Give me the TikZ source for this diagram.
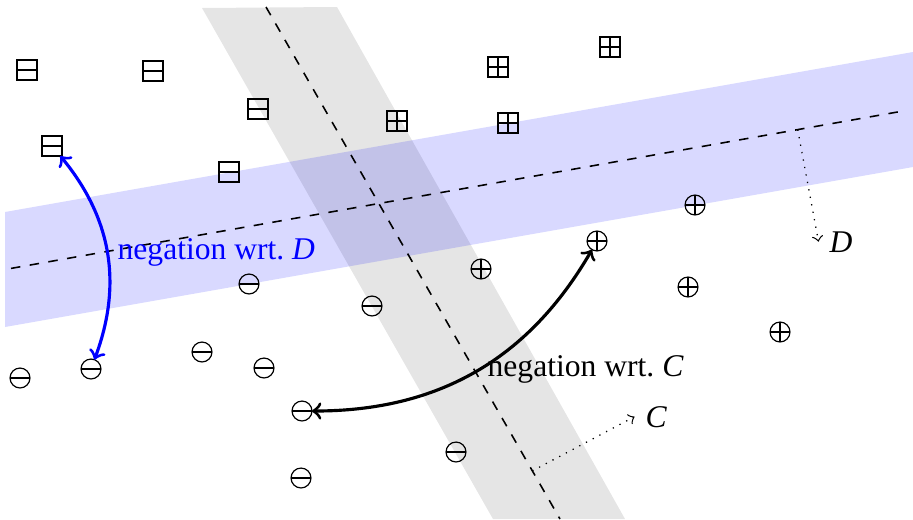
\documentclass[tikz,border=0pt]{standalone}
\usepackage{fontspec}
\setmainfont{Liberation Serif}
\usetikzlibrary{calc}
\begin{document}
\begin{tikzpicture}[x=0.3165pt,y=0.3165pt,
  sym/.style={draw, inner sep=0pt, outer sep=0pt, minimum size=6.3pt},
  boxm/.style={sym, rectangle, line width=0.6pt,
    path picture={\draw[line width=0.6pt] (path picture bounding box.west) -- (path picture bounding box.east);}},
  boxp/.style={sym, rectangle, line width=0.6pt,
    path picture={\draw[line width=0.6pt] (path picture bounding box.west) -- (path picture bounding box.east)
      (path picture bounding box.north) -- (path picture bounding box.south);}},
  circm/.style={sym, circle, line width=0.38pt,
    path picture={\draw[line width=0.35pt] (path picture bounding box.west) -- (path picture bounding box.east);}},
  circp/.style={sym, circle, line width=0.38pt,
    path picture={\draw[line width=0.35pt] (path picture bounding box.west) -- (path picture bounding box.east)
      (path picture bounding box.north) -- (path picture bounding box.south);}},
  hyper/.style={dashed, line width=0.5pt},
  negarrow/.style={<->, line width=1pt},
  normalarrow/.style={->, dotted, line width=0.4pt},
  biglabel/.style={anchor=base west, inner sep=0pt},
  letterlabel/.style={anchor=base west, inner sep=3.33pt}
]
\useasboundingbox (0,0) rectangle (913,-519);

% bands
\fill[gray!20] (202,-8) -- (337,-7) -- (625,-519) -- (493,-519) -- cycle;
\fill[blue, opacity=0.15] (5,-212) -- (913,-52) -- (913,-167) -- (5,-327) -- cycle;

% hyperplanes
\coordinate (g1) at (266,-7);
\coordinate (g2) at (560,-519);
\coordinate (b1) at (11,-268.4);
\coordinate (b2) at (906,-110.5);
\draw[hyper] (g1) -- (g2);
\draw[hyper] (b1) -- (b2);

% box-minus
\node[boxm] (bm1) at (27,-70) {};
\node[boxm] (bm2) at (153,-71) {};
\node[boxm] (bm3) at (258,-109) {};
\node[boxm] (bm4) at (52,-146) {};
\node[boxm] (bm5) at (229,-172) {};
% box-plus
\node[boxp] (bp1) at (498,-67) {};
\node[boxp] (bp2) at (610,-47) {};
\node[boxp] (bp3) at (397,-121) {};
\node[boxp] (bp4) at (508,-123) {};
% circle-minus
\node[circm] (cm1) at (20,-378) {};
\node[circm] (cm2) at (91,-369) {};
\node[circm] (cm3) at (202,-352) {};
\node[circm] (cm4) at (264,-368) {};
\node[circm] (cm5) at (302,-411) {};
\node[circm] (cm6) at (301,-478) {};
\node[circm] (cm7) at (249,-284) {};
\node[circm] (cm8) at (372,-306) {};
\node[circm] (cm9) at (456,-452) {};
% circle-plus
\node[circp] (cp1) at (695,-205) {};
\node[circp] (cp2) at (597,-241) {};
\node[circp] (cp3) at (481,-269) {};
\node[circp] (cp4) at (688,-287) {};
\node[circp] (cp5) at (780,-332) {};

% labels
\node[biglabel, text=blue] (labD) at (117,-259) {negation wrt.\ \textit{D}};
\node[biglabel] (labC) at (487,-376) {negation wrt.\ \textit{C}};
\node[letterlabel] (Clab) at (634.5,-427) {\textit{C}};
\node[letterlabel] (Dlab) at (818.5,-252) {\textit{D}};

% negation arrows
\draw[negarrow, blue] (bm4) to[bend left=30] (cm2);
\draw[negarrow] (cm5) to[bend right=30] (cp2);

% normals
\coordinate (cfoot) at ($(g1)!0.906!(g2)$);
\coordinate (dfoot) at ($(b1)!0.879!(b2)$);
\draw[normalarrow] (cfoot) -- (Clab.west);
\draw[normalarrow] (dfoot) -- (Dlab.west);
\end{tikzpicture}
\end{document}
